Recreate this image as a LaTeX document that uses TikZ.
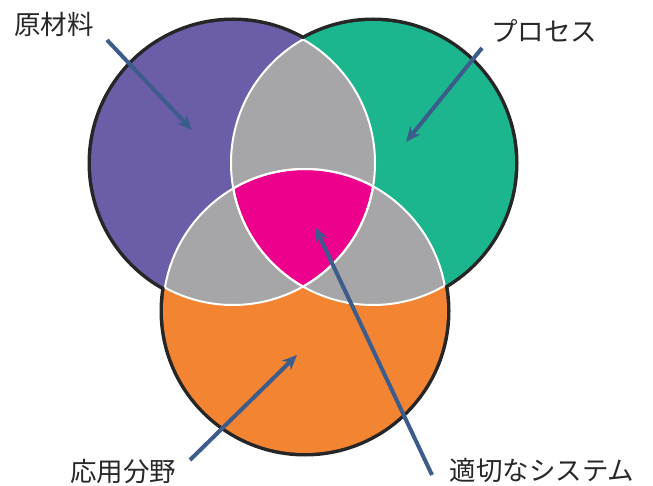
\documentclass[tikz,border=0pt]{standalone}
\usepackage{fontspec}
\newfontfamily\jpfont{Noto Sans CJK JP}
\usepackage{tikz}
\usetikzlibrary{arrows.meta, positioning}

\definecolor{rawpurple}{RGB}{108,93,168}
\definecolor{procgreen}{RGB}{27,182,142}
\definecolor{apporange}{RGB}{242,132,50}
\definecolor{overlapgray}{RGB}{166,166,168}
\definecolor{coremagenta}{RGB}{236,0,140}
\definecolor{pointerblue}{RGB}{60,92,140}
\definecolor{termgray}{RGB}{40,40,40}

\begin{document}
\begin{tikzpicture}[
  x=1pt, y=-1pt,
  % --- styles ------------------------------------------------------------
  term/.style={font=\jpfont\fontsize{26.5}{30}\selectfont, text=termgray, inner sep=0pt},
  pointer/.style={-{Stealth[length=15pt, width=13pt]}, line width=4pt, pointerblue},
  outline/.style={draw=black!85, line width=7pt},
  seam/.style={draw=white, line width=2pt},
  overlap/.style={fill=overlapgray}
]
\useasboundingbox (0,0) rectangle (653,486);

% --------------------- circle centres -----------------------------------
\coordinate (cRaw)  at (233,163);
\coordinate (cProc) at (373,163);
\coordinate (cApp)  at (305,311);

% --------------------- outer outline (outer half stays) -----------------
\foreach \c in {cRaw,cProc,cApp}
  \draw[outline] (\c) circle (142pt);

% --------------------- fills ---------------------------------------------
\fill[rawpurple] (cRaw) circle (142pt);
\fill[procgreen] (cProc) circle (142pt);
\fill[apporange] (cApp) circle (142pt);

% pairwise overlaps
\begin{scope}
  \clip (cRaw) circle (142pt);
  \fill[overlap] (cProc) circle (142pt);
  \fill[overlap] (cApp) circle (142pt);
\end{scope}
\begin{scope}
  \clip (cProc) circle (142pt);
  \fill[overlap] (cApp) circle (142pt);
\end{scope}

% triple overlap
\begin{scope}
  \clip (cRaw) circle (142pt);
  \clip (cProc) circle (142pt);
  \fill[coremagenta] (cApp) circle (142pt);
\end{scope}

% --------------------- white inner seams --------------------------------
\begin{scope}
  \clip (cRaw) circle (142pt);
  \draw[seam] (cProc) circle (142pt);
  \draw[seam] (cApp) circle (142pt);
\end{scope}
\begin{scope}
  \clip (cProc) circle (142pt);
  \draw[seam] (cRaw) circle (142pt);
  \draw[seam] (cApp) circle (142pt);
\end{scope}
\begin{scope}
  \clip (cApp) circle (142pt);
  \draw[seam] (cRaw) circle (142pt);
  \draw[seam] (cProc) circle (142pt);
\end{scope}

% --------------------- labels --------------------------------------------
\node[term] (lblRaw)  at (54,24)   {原材料};
\node[term] (lblProc) at (544,31)  {プロセス};
\node[term] (lblApp)  at (123,471) {応用分野};
\node[term] (lblSys)  at (542,470) {適切なシステム};

% --------------------- pointers -----------------------------------------
\coordinate (tRaw)  at (107,40);  \coordinate (hRaw)  at (192,130);
\coordinate (tProc) at (482,48);  \coordinate (hProc) at (406,142);
\coordinate (tApp)  at (190,460); \coordinate (hApp)  at (297,355);
\coordinate (tSys)  at (432,475); \coordinate (hSys)  at (315,227);

\draw[pointer] (tRaw) -- (hRaw);
\draw[pointer] (tProc) -- (hProc);
\draw[pointer] (tApp) -- (hApp);
\draw[pointer] (tSys) -- (hSys);

\end{tikzpicture}
\end{document}
